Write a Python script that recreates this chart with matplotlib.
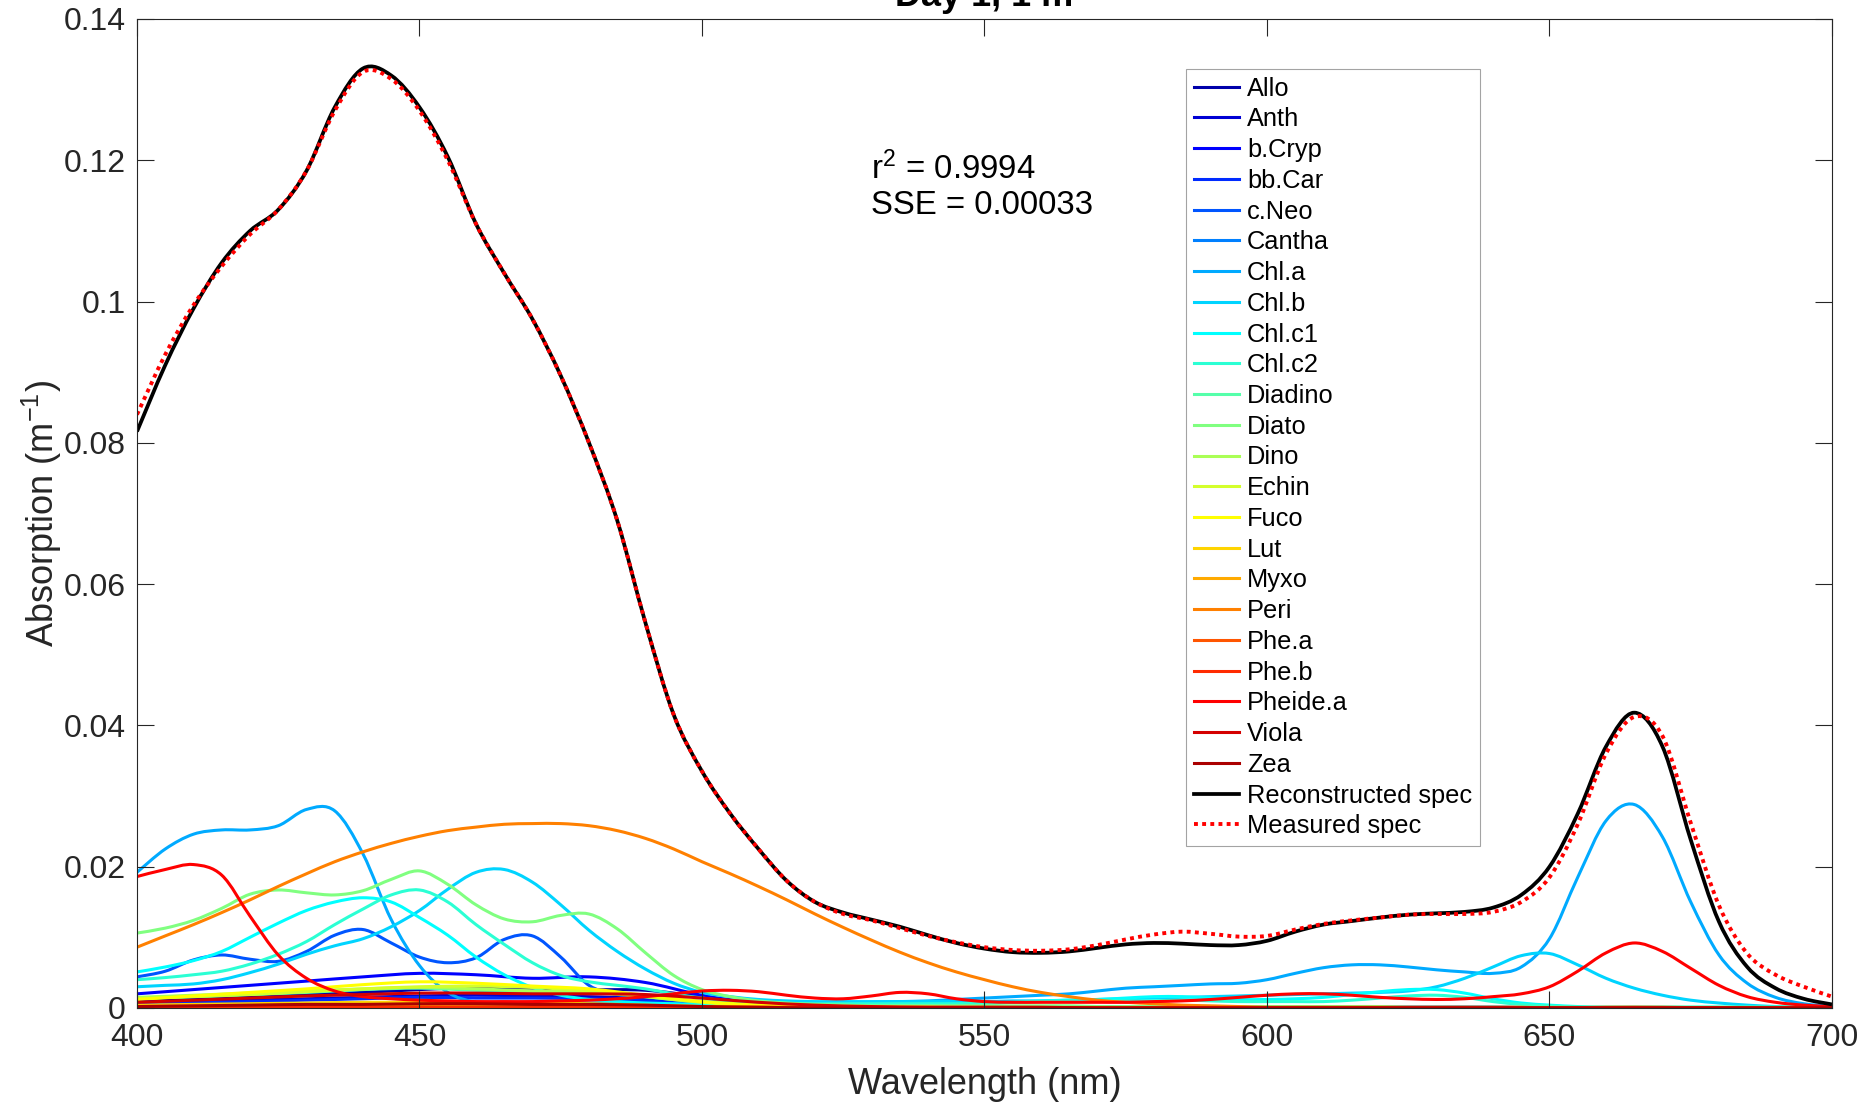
import matplotlib
matplotlib.use('Agg')
import matplotlib.pyplot as plt
from matplotlib.ticker import FuncFormatter
from matplotlib.path import Path
from matplotlib.patches import PathPatch
from matplotlib.lines import Line2D

plt.rcParams['font.family'] = ['Liberation Sans', 'DejaVu Sans']
plt.rcParams['mathtext.fontset'] = 'custom'
plt.rcParams['mathtext.rm'] = 'Liberation Sans'
plt.rcParams['mathtext.it'] = 'Liberation Sans:italic'
plt.rcParams['mathtext.bf'] = 'Liberation Sans:bold'

# wavelength grids (nm)
wl5 = list(range(400, 701, 5))
wl10 = list(range(400, 701, 10))

# ---- spectra, 5 nm steps ----
recon = [0.0816, 0.0910, 0.0990, 0.1055, 0.1100, 0.1130, 0.1185, 0.1275, 0.1330, 0.1320,
         0.1275, 0.1205, 0.1110, 0.1040, 0.0975, 0.0895, 0.0800, 0.0690, 0.0545, 0.0415,
         0.0335, 0.0275, 0.0225, 0.0180, 0.0150, 0.0135, 0.0125, 0.0115, 0.0103, 0.0092,
         0.0084, 0.0079, 0.0078, 0.0080, 0.0085, 0.0090, 0.0092, 0.0091, 0.0089, 0.0089,
         0.0095, 0.0108, 0.0118, 0.0123, 0.0128, 0.0132, 0.0134, 0.0136, 0.0142, 0.0160,
         0.0200, 0.0275, 0.0370, 0.0418, 0.0370, 0.0238, 0.0122, 0.0058, 0.0028, 0.0013,
         0.0005]
measured = [0.0840, 0.0925, 0.0995, 0.1050, 0.1095, 0.1130, 0.1185, 0.1270, 0.1325, 0.1315,
            0.1270, 0.1200, 0.1110, 0.1040, 0.0975, 0.0895, 0.0800, 0.0690, 0.0545, 0.0415,
            0.0335, 0.0275, 0.0225, 0.0180, 0.0150, 0.0133, 0.0124, 0.0113, 0.0102, 0.0093,
            0.0086, 0.0082, 0.0081, 0.0083, 0.0089, 0.0097, 0.0104, 0.0108, 0.0105, 0.0101,
            0.0102, 0.0111, 0.0119, 0.0124, 0.0128, 0.0132, 0.0133, 0.0133, 0.0136, 0.0150,
            0.0185, 0.0260, 0.0360, 0.0412, 0.0385, 0.0262, 0.0145, 0.0077, 0.0047, 0.0030,
            0.0016]
chla = [0.0192, 0.0225, 0.0246, 0.0252, 0.0252, 0.0258, 0.0281, 0.0279, 0.0218, 0.0125,
        0.0060, 0.0022, 0.0008, 0.0005, 0.0005, 0.0005, 0.0005, 0.0005, 0.0005, 0.0005,
        0.0005, 0.0005, 0.0006, 0.0006, 0.0006, 0.0007, 0.0008, 0.0009, 0.0010, 0.0012,
        0.0014, 0.0016, 0.0018, 0.0020, 0.0024, 0.0028, 0.0030, 0.0032, 0.0034, 0.0035,
        0.0040, 0.0049, 0.0057, 0.0061, 0.0061, 0.0058, 0.0054, 0.0051, 0.0049, 0.0058,
        0.0098, 0.0185, 0.0265, 0.0288, 0.0242, 0.0150, 0.0075, 0.0035, 0.0015, 0.0006,
        0.0002]
chlb = [0.0030, 0.0032, 0.0034, 0.0040, 0.0050, 0.0062, 0.0076, 0.0088, 0.0098, 0.0115,
        0.0138, 0.0168, 0.0192, 0.0196, 0.0178, 0.0146, 0.0110, 0.0080, 0.0055, 0.0035,
        0.0022, 0.0016, 0.0012, 0.0010, 0.0009, 0.0009, 0.0009, 0.0009, 0.0009, 0.0009,
        0.0009, 0.0010, 0.0010, 0.0011, 0.0012, 0.0013, 0.0014, 0.0015, 0.0016, 0.0017,
        0.0018, 0.0019, 0.0020, 0.0021, 0.0022, 0.0024, 0.0030, 0.0042, 0.0058, 0.0074,
        0.0077, 0.0061, 0.0042, 0.0028, 0.0018, 0.0011, 0.0007, 0.0004, 0.0002, 0.0001,
        0.0000]
chlc1 = [0.0051, 0.0058, 0.0067, 0.0080, 0.0100, 0.0120, 0.0138, 0.0150, 0.0156, 0.0150,
         0.0128, 0.0103, 0.0072, 0.0047, 0.0029, 0.0018, 0.0012, 0.0009, 0.0007, 0.0006,
         0.0005, 0.0005, 0.0005, 0.0004, 0.0004, 0.0004, 0.0004, 0.0004, 0.0005, 0.0005,
         0.0006, 0.0008, 0.0010, 0.0011, 0.0012, 0.0014, 0.0016, 0.0016, 0.0014, 0.0012,
         0.0012, 0.0013, 0.0015, 0.0019, 0.0023, 0.0026, 0.0026, 0.0021, 0.0013, 0.0007,
         0.0004, 0.0002, 0.0001, 0.0001, 0.0001, 0.0001, 0.0001, 0.0001, 0.0001, 0.0001,
         0.0001]
chlc2 = [0.0040, 0.0043, 0.0047, 0.0052, 0.0062, 0.0076, 0.0094, 0.0118, 0.0140, 0.0160,
         0.0167, 0.0150, 0.0118, 0.0090, 0.0064, 0.0046, 0.0037, 0.0032, 0.0027, 0.0020,
         0.0014, 0.0010, 0.0008, 0.0006, 0.0006, 0.0006, 0.0006, 0.0006, 0.0006, 0.0006,
         0.0007, 0.0008, 0.0009, 0.0010, 0.0010, 0.0010, 0.0010, 0.0011, 0.0010, 0.0009,
         0.0009, 0.0009, 0.0009, 0.0011, 0.0014, 0.0017, 0.0018, 0.0015, 0.0009, 0.0005,
         0.0003, 0.0001, 0.0001, 0.0001, 0.0001, 0.0001, 0.0001, 0.0001, 0.0001, 0.0001,
         0.0001]
diato = [0.0106, 0.0113, 0.0124, 0.0141, 0.0161, 0.0167, 0.0163, 0.0160, 0.0166, 0.0182,
         0.0194, 0.0175, 0.0146, 0.0126, 0.0122, 0.0131, 0.0133, 0.0112, 0.0078, 0.0046,
         0.0026, 0.0016, 0.0010, 0.0007, 0.0005, 0.0004, 0.0003, 0.0003, 0.0003, 0.0003,
         0.0003, 0.0003, 0.0003, 0.0003, 0.0002, 0.0002, 0.0002, 0.0002, 0.0002, 0.0002,
         0.0002, 0.0002, 0.0002, 0.0002, 0.0002, 0.0001, 0.0001, 0.0001, 0.0001, 0.0001,
         0.0001, 0.0001, 0.0001, 0.0001, 0.0001, 0.0001, 0.0001, 0.0001, 0.0001, 0.0001,
         0.0001]
cneo = [0.0044, 0.0052, 0.0068, 0.0075, 0.0069, 0.0066, 0.0080, 0.0103, 0.0111, 0.0092,
        0.0072, 0.0064, 0.0071, 0.0097, 0.0102, 0.0072, 0.0032, 0.0019, 0.0015, 0.0012,
        0.0009, 0.0006, 0.0004, 0.0003, 0.0002, 0.0002, 0.0002, 0.0002, 0.0002, 0.0002,
        0.0001, 0.0001, 0.0001, 0.0001, 0.0001, 0.0001, 0.0001, 0.0001, 0.0001, 0.0001,
        0.0001, 0.0001, 0.0001, 0.0001, 0.0001, 0.0001, 0.0001, 0.0001, 0.0001, 0.0001,
        0.0000, 0.0000, 0.0000, 0.0000, 0.0000, 0.0000, 0.0000, 0.0000, 0.0000, 0.0000,
        0.0000]
pheidea = [0.0186, 0.0196, 0.0203, 0.0188, 0.0130, 0.0075, 0.0042, 0.0024, 0.0016, 0.0013,
           0.0011, 0.0010, 0.0009, 0.0009, 0.0009, 0.0010, 0.0011, 0.0013, 0.0016, 0.0020,
           0.0024, 0.0025, 0.0023, 0.0018, 0.0014, 0.0013, 0.0017, 0.0022, 0.0020, 0.0013,
           0.0009, 0.0008, 0.0008, 0.0008, 0.0008, 0.0008, 0.0009, 0.0010, 0.0012, 0.0015,
           0.0018, 0.0020, 0.0020, 0.0018, 0.0015, 0.0013, 0.0012, 0.0013, 0.0016, 0.0020,
           0.0030, 0.0052, 0.0078, 0.0092, 0.0080, 0.0056, 0.0032, 0.0016, 0.0008, 0.0004,
           0.0002]
peri = [0.0086, 0.0102, 0.0118, 0.0135, 0.0153, 0.0172, 0.0190, 0.0207, 0.0221, 0.0233,
        0.0243, 0.0251, 0.0256, 0.0260, 0.0261, 0.0261, 0.0258, 0.0251, 0.0240, 0.0225,
        0.0207, 0.0190, 0.0172, 0.0153, 0.0133, 0.0114, 0.0096, 0.0079, 0.0064, 0.0051,
        0.0040, 0.0030, 0.0022, 0.0016, 0.0011, 0.0008, 0.0006, 0.0004, 0.0003, 0.0002,
        0.0001, 0.0001, 0.0001, 0.0001, 0.0001, 0.0001, 0.0001, 0.0001, 0.0001, 0.0001,
        0.0000, 0.0000, 0.0000, 0.0000, 0.0000, 0.0000, 0.0000, 0.0000, 0.0000, 0.0000,
        0.0000]

# ---- minor pigments, 10 nm steps ----
allo = [0.0010, 0.0013, 0.0016, 0.0019, 0.0022, 0.0026, 0.0029, 0.0028, 0.0026, 0.0025,
        0.0016, 0.0007, 0.0003, 0.0001, 0.0001, 0.0001, 0.0001, 0.0001, 0.0001, 0.0001,
        0.0001, 0.0001, 0.0001, 0.0001, 0.0001, 0.0000, 0.0000, 0.0000, 0.0000, 0.0000,
        0.0000]
anth = [0.0007, 0.0009, 0.0011, 0.0013, 0.0015, 0.0017, 0.0018, 0.0017, 0.0016, 0.0013,
        0.0008, 0.0004, 0.0002, 0.0001, 0.0001, 0.0001, 0.0001, 0.0000, 0.0000, 0.0000,
        0.0000, 0.0000, 0.0000, 0.0000, 0.0000, 0.0000, 0.0000, 0.0000, 0.0000, 0.0000,
        0.0000]
bcryp = [0.0020, 0.0026, 0.0032, 0.0038, 0.0044, 0.0049, 0.0047, 0.0042, 0.0044, 0.0036,
         0.0018, 0.0006, 0.0002, 0.0001, 0.0001, 0.0001, 0.0001, 0.0001, 0.0001, 0.0000,
         0.0000, 0.0000, 0.0000, 0.0000, 0.0000, 0.0000, 0.0000, 0.0000, 0.0000, 0.0000,
         0.0000]
bbcar = [0.0005, 0.0007, 0.0009, 0.0011, 0.0013, 0.0015, 0.0014, 0.0014, 0.0013, 0.0010,
         0.0005, 0.0002, 0.0001, 0.0000, 0.0000, 0.0000, 0.0000, 0.0000, 0.0000, 0.0000,
         0.0000, 0.0000, 0.0000, 0.0000, 0.0000, 0.0000, 0.0000, 0.0000, 0.0000, 0.0000,
         0.0000]
cantha = [0.0003, 0.0004, 0.0005, 0.0006, 0.0007, 0.0008, 0.0008, 0.0008, 0.0007, 0.0006,
          0.0004, 0.0002, 0.0001, 0.0000, 0.0000, 0.0000, 0.0000, 0.0000, 0.0000, 0.0000,
          0.0000, 0.0000, 0.0000, 0.0000, 0.0000, 0.0000, 0.0000, 0.0000, 0.0000, 0.0000,
          0.0000]
diadino = [0.0014, 0.0016, 0.0019, 0.0022, 0.0026, 0.0028, 0.0025, 0.0023, 0.0022, 0.0016,
           0.0008, 0.0004, 0.0002, 0.0001, 0.0001, 0.0001, 0.0000, 0.0000, 0.0000, 0.0000,
           0.0000, 0.0000, 0.0000, 0.0000, 0.0000, 0.0000, 0.0000, 0.0000, 0.0000, 0.0000,
           0.0000]
dino = [0.0015, 0.0018, 0.0021, 0.0024, 0.0027, 0.0029, 0.0027, 0.0024, 0.0022, 0.0017,
        0.0009, 0.0004, 0.0002, 0.0001, 0.0001, 0.0000, 0.0000, 0.0000, 0.0000, 0.0000,
        0.0000, 0.0000, 0.0000, 0.0000, 0.0000, 0.0000, 0.0000, 0.0000, 0.0000, 0.0000,
        0.0000]
echin = [0.0013, 0.0016, 0.0019, 0.0023, 0.0027, 0.0030, 0.0031, 0.0029, 0.0024, 0.0016,
         0.0008, 0.0003, 0.0001, 0.0001, 0.0000, 0.0000, 0.0000, 0.0000, 0.0000, 0.0000,
         0.0000, 0.0000, 0.0000, 0.0000, 0.0000, 0.0000, 0.0000, 0.0000, 0.0000, 0.0000,
         0.0000]
fuco = [0.0012, 0.0017, 0.0022, 0.0027, 0.0033, 0.0037, 0.0035, 0.0031, 0.0027, 0.0018,
        0.0009, 0.0004, 0.0002, 0.0001, 0.0001, 0.0000, 0.0000, 0.0000, 0.0000, 0.0000,
        0.0000, 0.0000, 0.0000, 0.0000, 0.0000, 0.0000, 0.0000, 0.0000, 0.0000, 0.0000,
        0.0000]
lut = [0.0004, 0.0005, 0.0006, 0.0007, 0.0008, 0.0008, 0.0008, 0.0007, 0.0006, 0.0004,
       0.0002, 0.0001, 0.0000, 0.0000, 0.0000, 0.0000, 0.0000, 0.0000, 0.0000, 0.0000,
       0.0000, 0.0000, 0.0000, 0.0000, 0.0000, 0.0000, 0.0000, 0.0000, 0.0000, 0.0000,
       0.0000]
myxo = [0.0002, 0.0003, 0.0003, 0.0004, 0.0004, 0.0004, 0.0004, 0.0004, 0.0003, 0.0003,
        0.0002, 0.0001, 0.0000, 0.0000, 0.0000, 0.0000, 0.0000, 0.0000, 0.0000, 0.0000,
        0.0000, 0.0000, 0.0000, 0.0000, 0.0000, 0.0000, 0.0000, 0.0000, 0.0000, 0.0000,
        0.0000]
phea = [0.0002, 0.0002, 0.0002, 0.0001, 0.0001, 0.0001, 0.0001, 0.0001, 0.0001, 0.0001,
        0.0001, 0.0001, 0.0001, 0.0001, 0.0001, 0.0001, 0.0000, 0.0000, 0.0000, 0.0000,
        0.0000, 0.0000, 0.0000, 0.0000, 0.0000, 0.0000, 0.0001, 0.0001, 0.0000, 0.0000,
        0.0000]
pheb = [0.0001, 0.0001, 0.0001, 0.0001, 0.0001, 0.0001, 0.0001, 0.0001, 0.0001, 0.0001,
        0.0001, 0.0000, 0.0000, 0.0000, 0.0000, 0.0000, 0.0000, 0.0000, 0.0000, 0.0000,
        0.0000, 0.0000, 0.0000, 0.0000, 0.0000, 0.0000, 0.0000, 0.0000, 0.0000, 0.0000,
        0.0000]
viola = [0.0008, 0.0011, 0.0014, 0.0017, 0.0019, 0.0021, 0.0021, 0.0020, 0.0020, 0.0019,
         0.0014, 0.0008, 0.0004, 0.0002, 0.0001, 0.0001, 0.0001, 0.0000, 0.0000, 0.0000,
         0.0000, 0.0000, 0.0000, 0.0000, 0.0000, 0.0000, 0.0000, 0.0000, 0.0000, 0.0000,
         0.0000]
zea = [0.0002, 0.0003, 0.0004, 0.0005, 0.0005, 0.0006, 0.0006, 0.0005, 0.0005, 0.0004,
       0.0002, 0.0001, 0.0000, 0.0000, 0.0000, 0.0000, 0.0000, 0.0000, 0.0000, 0.0000,
       0.0000, 0.0000, 0.0000, 0.0000, 0.0000, 0.0000, 0.0000, 0.0000, 0.0000, 0.0000,
       0.0000]

names = ['Allo', 'Anth', 'b.Cryp', 'bb.Car', 'c.Neo', 'Cantha', 'Chl.a', 'Chl.b',
         'Chl.c1', 'Chl.c2', 'Diadino', 'Diato', 'Dino', 'Echin', 'Fuco', 'Lut',
         'Myxo', 'Peri', 'Phe.a', 'Phe.b', 'Pheide.a', 'Viola', 'Zea']
series = [(wl10, allo), (wl10, anth), (wl10, bcryp), (wl10, bbcar), (wl5, cneo),
          (wl10, cantha), (wl5, chla), (wl5, chlb), (wl5, chlc1), (wl5, chlc2),
          (wl10, diadino), (wl5, diato), (wl10, dino), (wl10, echin), (wl10, fuco),
          (wl10, lut), (wl10, myxo), (wl5, peri), (wl10, phea), (wl10, pheb),
          (wl5, pheidea), (wl10, viola), (wl10, zea)]

# matlab jet(23)
colors = ['#0000aa', '#0000d4', '#0000ff', '#002bff', '#0055ff', '#0080ff', '#00aaff',
          '#00d4ff', '#00ffff', '#2bffd4', '#55ffaa', '#80ff80', '#aaff55', '#d4ff2b',
          '#ffff00', '#ffd400', '#ffaa00', '#ff8000', '#ff5500', '#ff2b00', '#ff0000',
          '#d40000', '#aa0000']


def smooth_path(x, y):
    # catmull-rom through the read points, drawn as bezier segments
    verts = [(x[0], y[0])]
    codes = [Path.MOVETO]
    n = len(x)
    for i in range(n - 1):
        i0 = max(i - 1, 0)
        i3 = min(i + 2, n - 1)
        c1 = (x[i] + (x[i + 1] - x[i0]) / 6, y[i] + (y[i + 1] - y[i0]) / 6)
        c2 = (x[i + 1] - (x[i3] - x[i]) / 6, y[i + 1] - (y[i3] - y[i]) / 6)
        verts += [c1, c2, (x[i + 1], y[i + 1])]
        codes += [Path.CURVE4] * 3
    return Path(verts, codes)


def draw(ax, x, y, **kw):
    ax.add_patch(PathPatch(smooth_path(x, y), facecolor='none', joinstyle='round', **kw))


fig = plt.figure(figsize=(18.69, 11.04), dpi=100)
ax = fig.add_axes([0.0733, 0.087, 0.9069, 0.8958])

lw = 2.2
handles = []
for name, (x, y), c in zip(names, series, colors):
    draw(ax, x, y, edgecolor=c, lw=lw)
    handles.append(Line2D([], [], color=c, lw=lw))
draw(ax, wl5, recon, edgecolor='k', lw=2.7)
handles.append(Line2D([], [], color='k', lw=2.7))
draw(ax, wl5, measured, edgecolor='r', lw=2.8, ls=(0, (1, 1.1)))
handles.append(Line2D([], [], color='r', lw=2.8, ls=(0, (1, 1.1))))
labels = names + ['Reconstructed spec', 'Measured spec']

ax.set_xlim(400, 700)
ax.set_ylim(0, 0.14)
ax.set_xticks(range(400, 701, 50))
ax.set_yticks([0, 0.02, 0.04, 0.06, 0.08, 0.1, 0.12, 0.14])
ax.yaxis.set_major_formatter(FuncFormatter(lambda v, p: '%g' % v))
ax.tick_params(direction='in', length=12, width=0.8, top=True, right=True,
               labelsize=23, colors='#262626')
ax.tick_params(axis='x', pad=11)
ax.tick_params(axis='y', pad=8)
for s in ax.spines.values():
    s.set_color('#262626')
    s.set_linewidth(0.8)

ax.set_xlabel('Wavelength (nm)', fontsize=26, color='#262626', labelpad=10)
ax.set_ylabel('Absorption (m$^{-1}$)', fontsize=26, color='#262626', labelpad=0)
ax.set_title('Day 1, 1 m', fontsize=26, fontweight='bold', pad=9)

ax.text(530, 0.1163, 'r$^2$ = 0.9994\nSSE = 0.00033', fontsize=23.8, va='center',
        linespacing=1.15)

leg = ax.legend(handles, labels, loc='upper left', bbox_to_anchor=(0.6346, 0.9375),
                bbox_transform=fig.transFigure, fontsize=18.3, frameon=True,
                fancybox=False, edgecolor='#8c8c8c', borderaxespad=0,
                handlelength=1.8, handletextpad=0.3, labelspacing=0.265,
                borderpad=0.3)
leg.get_frame().set_linewidth(0.8)

fig.savefig('out.png', dpi=100)
